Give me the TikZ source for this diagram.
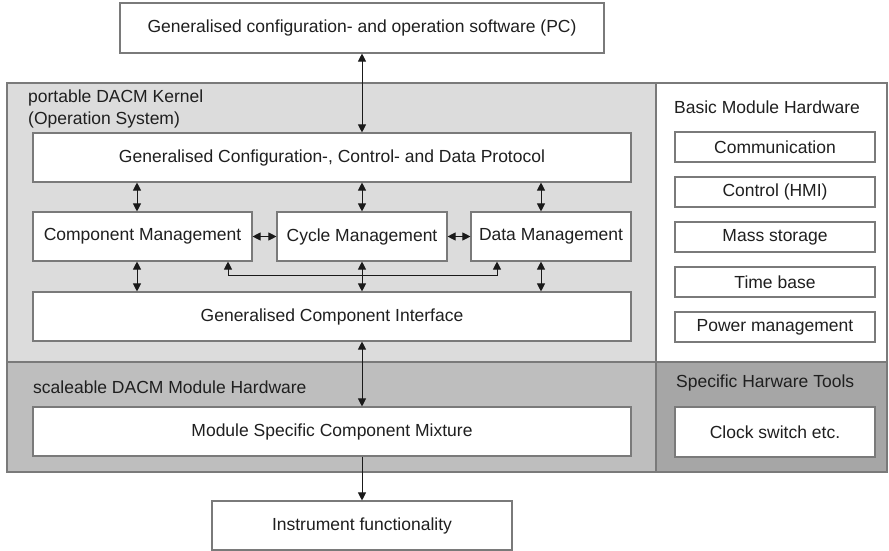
\documentclass[tikz,border=0pt]{standalone}
\usepackage{fontspec}
\setmainfont{Liberation Sans}
\usetikzlibrary{arrows.meta}
\definecolor{kernelgray}{HTML}{DCDCDC}
\definecolor{modgray}{HTML}{BEBEBE}
\definecolor{toolgray}{HTML}{A6A6A6}
\definecolor{edgegray}{HTML}{7A7A7A}
\definecolor{linkcol}{HTML}{1A1A1A}
\tikzset{
  x=1pt, y=-1pt,
  every node/.style={font=\fontsize{17.5}{22}\selectfont, text=black!88},
  block/.style={draw=edgegray, line width=1.1pt, fill=white, inner sep=0pt},
  region/.style={draw=edgegray, line width=1.1pt},
  caption/.style={anchor=west, inner sep=0pt, align=left},
  link/.style={draw=linkcol, line width=0.9pt, {Triangle[length=8pt,width=8pt]}-{Triangle[length=8pt,width=8pt]}},
  onelink/.style={draw=linkcol, line width=0.9pt, -{Triangle[length=8pt,width=8pt]}}
}
\newcommand{\boxnode}[6]{% name, x1, y1, x2, y2, text
  \node[block, minimum width={(#4-#2)*1pt}, minimum height={(#5-#3)*1pt}] (#1) at ({(#2+#4)/2},{(#3+#5)/2}) {#6};}
\begin{document}
\begin{tikzpicture}
\useasboundingbox (0,0) rectangle (889,551);
% background regions
\filldraw[region, fill=kernelgray] (7,83) rectangle (656,362);
\filldraw[region, fill=white] (656,83) rectangle (887,362);
\filldraw[region, fill=modgray] (7,362) rectangle (656,472);
\filldraw[region, fill=toolgray] (656,362) rectangle (887,472);
% region captions
\node[caption] (kcap) at (28,109) {portable DACM Kernel\\(Operation System)};
\node[caption] (bcap) at (674,107) {Basic Module Hardware};
\node[caption] (scap) at (33,387) {scaleable DACM Module Hardware};
\node[caption] (tcap) at (676,383) {Specific Harware Tools};
% blocks
\boxnode{pc}{120}{3}{604}{53}{Generalised configuration- and operation software (PC)}
\boxnode{proto}{33}{133}{631}{182}{Generalised Configuration-, Control- and Data Protocol}
\boxnode{comp}{33}{212}{252}{261}{Component Management}
\boxnode{cycle}{277}{212}{447}{261}{Cycle Management}
\boxnode{data}{471}{212}{631}{261}{Data Management}
\boxnode{iface}{33}{292}{631}{341}{Generalised Component Interface}
\boxnode{mix}{33}{407}{631}{456}{Module Specific Component Mixture}
\boxnode{instr}{212}{501}{512}{550}{Instrument functionality}
\boxnode{comm}{675}{132}{875}{162}{Communication}
\boxnode{hmi}{675}{177}{875}{207}{Control (HMI)}
\boxnode{mass}{675}{222}{875}{252}{Mass storage}
\boxnode{time}{675}{267}{875}{297}{Time base}
\boxnode{power}{675}{312}{875}{342}{Power management}
\boxnode{clock}{675}{407}{875}{457}{Clock switch etc.}
% connector columns
\coordinate (xl) at (137,0);
\coordinate (xr) at (541,0);
\coordinate (xm) at (362,0);
\coordinate (b1) at (228,275);
\coordinate (b2) at (497,275);
% connectors
\draw[link] (pc.south -| xm) -- (proto.north -| xm);
\draw[link] (proto.south -| xl) -- (comp.north -| xl);
\draw[link] (proto.south -| xm) -- (cycle.north -| xm);
\draw[link] (proto.south -| xr) -- (data.north -| xr);
\draw[link] (comp) -- (cycle);
\draw[link] (cycle) -- (data);
\draw[link] (comp.south -| xl) -- (iface.north -| xl);
\draw[link] (cycle.south -| xm) -- (iface.north -| xm);
\draw[link] (data.south -| xr) -- (iface.north -| xr);
\draw[link] (comp.south -| b1) -- (b1) -- (b2) -- (data.south -| b2);
\draw[link] (iface.south -| xm) -- (mix.north -| xm);
\draw[onelink] (mix.south -| xm) -- (instr.north -| xm);
\end{tikzpicture}
\end{document}
